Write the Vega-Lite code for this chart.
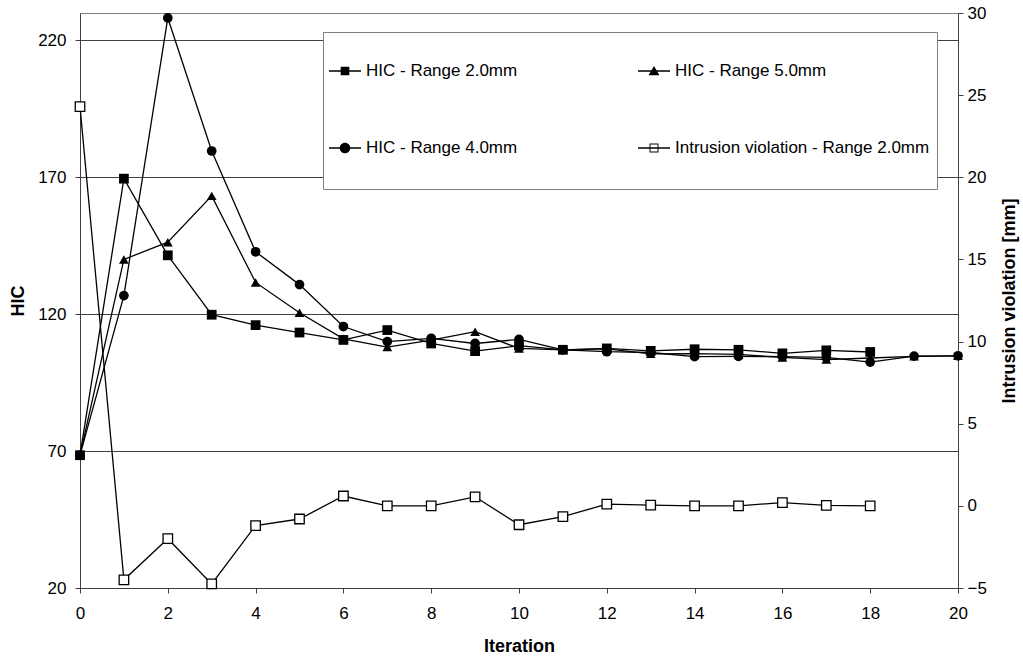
{
  "$schema": "https://vega.github.io/schema/vega-lite/v6.json",
  "width": 878,
  "height": 575,
  "autosize": {"type": "none"},
  "padding": {"left": 80, "top": 13, "right": 65, "bottom": 72},
  "background": "white",
  "config": {
    "font": "Liberation Sans",
    "view": {"stroke": "#808080", "strokeWidth": 1},
    "axis": {
      "labelFont": "Liberation Sans",
      "labelFontSize": 17,
      "labelColor": "#000",
      "titleFont": "Liberation Sans",
      "titleFontSize": 18,
      "titleFontWeight": "bold",
      "titleColor": "#000",
      "domainColor": "#404040",
      "tickColor": "#404040",
      "tickSize": 5,
      "grid": false,
      "labelFlush": false,
      "labelOverlap": false
    }
  },
  "data": {
    "values": [
      {"it": 0, "series": "HIC - Range 2.0mm", "value": 68.5},
      {"it": 1, "series": "HIC - Range 2.0mm", "value": 169.5},
      {"it": 2, "series": "HIC - Range 2.0mm", "value": 141.5},
      {"it": 3, "series": "HIC - Range 2.0mm", "value": 119.8},
      {"it": 4, "series": "HIC - Range 2.0mm", "value": 116},
      {"it": 5, "series": "HIC - Range 2.0mm", "value": 113.3},
      {"it": 6, "series": "HIC - Range 2.0mm", "value": 110.6},
      {"it": 7, "series": "HIC - Range 2.0mm", "value": 114.2},
      {"it": 8, "series": "HIC - Range 2.0mm", "value": 109.3},
      {"it": 9, "series": "HIC - Range 2.0mm", "value": 106.5},
      {"it": 10, "series": "HIC - Range 2.0mm", "value": 108.5},
      {"it": 11, "series": "HIC - Range 2.0mm", "value": 107},
      {"it": 12, "series": "HIC - Range 2.0mm", "value": 107.5},
      {"it": 13, "series": "HIC - Range 2.0mm", "value": 106.6},
      {"it": 14, "series": "HIC - Range 2.0mm", "value": 107.2},
      {"it": 15, "series": "HIC - Range 2.0mm", "value": 107},
      {"it": 16, "series": "HIC - Range 2.0mm", "value": 105.7},
      {"it": 17, "series": "HIC - Range 2.0mm", "value": 106.8},
      {"it": 18, "series": "HIC - Range 2.0mm", "value": 106.2},
      {"it": 0, "series": "HIC - Range 4.0mm", "value": 68.5},
      {"it": 1, "series": "HIC - Range 4.0mm", "value": 126.8},
      {"it": 2, "series": "HIC - Range 4.0mm", "value": 228.2},
      {"it": 3, "series": "HIC - Range 4.0mm", "value": 179.6},
      {"it": 4, "series": "HIC - Range 4.0mm", "value": 142.8},
      {"it": 5, "series": "HIC - Range 4.0mm", "value": 130.8},
      {"it": 6, "series": "HIC - Range 4.0mm", "value": 115.5},
      {"it": 7, "series": "HIC - Range 4.0mm", "value": 110},
      {"it": 8, "series": "HIC - Range 4.0mm", "value": 111.2},
      {"it": 9, "series": "HIC - Range 4.0mm", "value": 109.3},
      {"it": 10, "series": "HIC - Range 4.0mm", "value": 110.8},
      {"it": 11, "series": "HIC - Range 4.0mm", "value": 107},
      {"it": 12, "series": "HIC - Range 4.0mm", "value": 106.3},
      {"it": 13, "series": "HIC - Range 4.0mm", "value": 106},
      {"it": 14, "series": "HIC - Range 4.0mm", "value": 104.5},
      {"it": 15, "series": "HIC - Range 4.0mm", "value": 104.6},
      {"it": 16, "series": "HIC - Range 4.0mm", "value": 104.5},
      {"it": 17, "series": "HIC - Range 4.0mm", "value": 104.2},
      {"it": 18, "series": "HIC - Range 4.0mm", "value": 102.5},
      {"it": 19, "series": "HIC - Range 4.0mm", "value": 104.7},
      {"it": 20, "series": "HIC - Range 4.0mm", "value": 104.8},
      {"it": 0, "series": "HIC - Range 5.0mm", "value": 68.5},
      {"it": 1, "series": "HIC - Range 5.0mm", "value": 140},
      {"it": 2, "series": "HIC - Range 5.0mm", "value": 146.3},
      {"it": 3, "series": "HIC - Range 5.0mm", "value": 163.2},
      {"it": 4, "series": "HIC - Range 5.0mm", "value": 131.6},
      {"it": 5, "series": "HIC - Range 5.0mm", "value": 120.5},
      {"it": 6, "series": "HIC - Range 5.0mm", "value": 111},
      {"it": 7, "series": "HIC - Range 5.0mm", "value": 108},
      {"it": 8, "series": "HIC - Range 5.0mm", "value": 110.5},
      {"it": 9, "series": "HIC - Range 5.0mm", "value": 113.6},
      {"it": 10, "series": "HIC - Range 5.0mm", "value": 107.5},
      {"it": 11, "series": "HIC - Range 5.0mm", "value": 107},
      {"it": 12, "series": "HIC - Range 5.0mm", "value": 107.3},
      {"it": 13, "series": "HIC - Range 5.0mm", "value": 105.5},
      {"it": 14, "series": "HIC - Range 5.0mm", "value": 105.6},
      {"it": 15, "series": "HIC - Range 5.0mm", "value": 105.3},
      {"it": 16, "series": "HIC - Range 5.0mm", "value": 104.2},
      {"it": 17, "series": "HIC - Range 5.0mm", "value": 103.4},
      {"it": 18, "series": "HIC - Range 5.0mm", "value": 104},
      {"it": 19, "series": "HIC - Range 5.0mm", "value": 104.6},
      {"it": 20, "series": "HIC - Range 5.0mm", "value": 104.8},
      {"it": 0, "series": "Intrusion violation - Range 2.0mm", "value": 24.3},
      {"it": 1, "series": "Intrusion violation - Range 2.0mm", "value": -4.5},
      {"it": 2, "series": "Intrusion violation - Range 2.0mm", "value": -2.0},
      {"it": 3, "series": "Intrusion violation - Range 2.0mm", "value": -4.75},
      {"it": 4, "series": "Intrusion violation - Range 2.0mm", "value": -1.2},
      {"it": 5, "series": "Intrusion violation - Range 2.0mm", "value": -0.8},
      {"it": 6, "series": "Intrusion violation - Range 2.0mm", "value": 0.6},
      {"it": 7, "series": "Intrusion violation - Range 2.0mm", "value": 0},
      {"it": 8, "series": "Intrusion violation - Range 2.0mm", "value": 0},
      {"it": 9, "series": "Intrusion violation - Range 2.0mm", "value": 0.55},
      {"it": 10, "series": "Intrusion violation - Range 2.0mm", "value": -1.15},
      {"it": 11, "series": "Intrusion violation - Range 2.0mm", "value": -0.65},
      {"it": 12, "series": "Intrusion violation - Range 2.0mm", "value": 0.1},
      {"it": 13, "series": "Intrusion violation - Range 2.0mm", "value": 0.05},
      {"it": 14, "series": "Intrusion violation - Range 2.0mm", "value": 0},
      {"it": 15, "series": "Intrusion violation - Range 2.0mm", "value": 0},
      {"it": 16, "series": "Intrusion violation - Range 2.0mm", "value": 0.2},
      {"it": 17, "series": "Intrusion violation - Range 2.0mm", "value": 0.03},
      {"it": 18, "series": "Intrusion violation - Range 2.0mm", "value": 0}
    ]
  },
  "layer": [
    {
      "transform": [{"filter": "datum.series !== 'Intrusion violation - Range 2.0mm'"}],
      "encoding": {
        "x": {
          "field": "it", "type": "quantitative",
          "scale": {"domain": [0, 20], "nice": false, "zero": false},
          "axis": {"values": [0, 2, 4, 6, 8, 10, 12, 14, 16, 18, 20], "title": "Iteration", "labelPadding": 12, "titlePadding": 16}
        },
        "y": {
          "field": "value", "type": "quantitative",
          "scale": {"domain": [20, 230], "nice": false, "zero": false},
          "axis": {"orient": "left", "values": [20, 70, 120, 170, 220], "grid": true, "gridColor": "#404040", "gridWidth": 1, "title": "HIC", "labelPadding": 9, "titlePadding": 10}
        }
      },
      "layer": [
        {
          "mark": {"type": "line", "color": "#000", "strokeWidth": 1.3},
          "encoding": {"detail": {"field": "series", "type": "nominal"}}
        },
        {
          "mark": {"type": "point", "filled": true, "fill": "#000", "size": 95, "opacity": 1},
          "encoding": {
            "shape": {
              "field": "series", "type": "nominal",
              "scale": {
                "domain": ["HIC - Range 2.0mm", "HIC - Range 4.0mm", "HIC - Range 5.0mm"],
                "range": ["square", "circle", "triangle-up"]
              },
              "legend": null
            }
          }
        }
      ]
    },
    {
      "transform": [{"filter": "datum.series === 'Intrusion violation - Range 2.0mm'"}],
      "encoding": {
        "x": {
          "field": "it", "type": "quantitative",
          "scale": {"domain": [0, 20], "nice": false, "zero": false},
          "axis": {"values": [0, 2, 4, 6, 8, 10, 12, 14, 16, 18, 20], "title": "Iteration", "labelPadding": 12, "titlePadding": 16}
        },
        "y": {
          "field": "value", "type": "quantitative",
          "scale": {"domain": [-5, 30], "nice": false, "zero": false},
          "axis": {"orient": "right", "values": [-5, 0, 5, 10, 15, 20, 25, 30], "title": "Intrusion violation [mm]", "titleAngle": 270, "titleBaseline": "top", "labelPadding": 4, "titlePadding": 14}
        }
      },
      "layer": [
        {
          "mark": {"type": "line", "color": "#000", "strokeWidth": 1.3},
          "encoding": {}
        },
        {
          "mark": {"type": "point", "shape": "square", "filled": true, "fill": "#fff", "stroke": "#000", "strokeWidth": 1.3, "size": 90, "opacity": 1},
          "encoding": {}
        }
      ]
    },
    {
      "mark": {"type": "point", "filled": true, "fill": "#000", "size": 0, "opacity": 1},
      "encoding": {
        "x": {
          "field": "it", "type": "quantitative",
          "scale": {"domain": [0, 20], "nice": false, "zero": false},
          "axis": {"values": [0, 2, 4, 6, 8, 10, 12, 14, 16, 18, 20], "title": "Iteration", "labelPadding": 12, "titlePadding": 16}
        },
        "y": {
          "field": "value", "type": "quantitative",
          "scale": {"domain": [-5, 230], "nice": false, "zero": false},
          "axis": null
        },
        "shape": {
          "field": "series", "type": "nominal",
          "scale": {
            "domain": ["HIC - Range 2.0mm", "HIC - Range 4.0mm", "HIC - Range 5.0mm", "Intrusion violation - Range 2.0mm"],
            "range": [
              "M-0.5,-0.02H0.5V0.02H-0.5ZM-0.135,-0.135H0.135V0.135H-0.135Z",
              "M-0.5,-0.02H0.5V0.02H-0.5ZM-0.165,0A0.165,0.165,0,1,1,0.165,0A0.165,0.165,0,1,1,-0.165,0Z",
              "M-0.5,-0.02H0.5V0.02H-0.5ZM-0.17,0.135L0,-0.16L0.17,0.135Z",
              "M-0.5,-0.02H0.5V0.02H-0.5ZM-0.14,-0.14H0.14V0.14H-0.14ZM-0.11,-0.11V0.11H0.11V-0.11Z"
            ]
          },
          "legend": {
            "orient": "none",
            "legendX": 243,
            "legendY": 19,
            "columns": 2,
            "title": " ",
            "titleOrient": "bottom",
            "titleFontSize": 10,
            "titlePadding": 16,
            "padding": 7,
            "strokeColor": "#808080",
            "fillColor": "#fff",
            "labelFont": "Liberation Sans",
            "labelFontSize": 17,
            "labelColor": "#000",
            "labelLimit": 400,
            "symbolSize": 4096,
            "symbolOpacity": 1,
            "symbolFillColor": "#000",
            "symbolStrokeWidth": 0,
            "symbolOffset": -17,
            "labelOffset": -11,
            "rowPadding": 37,
            "columnPadding": 120
          }
        }
      }
    }
  ],
  "resolve": {"scale": {"y": "independent", "shape": "independent"}}
}
